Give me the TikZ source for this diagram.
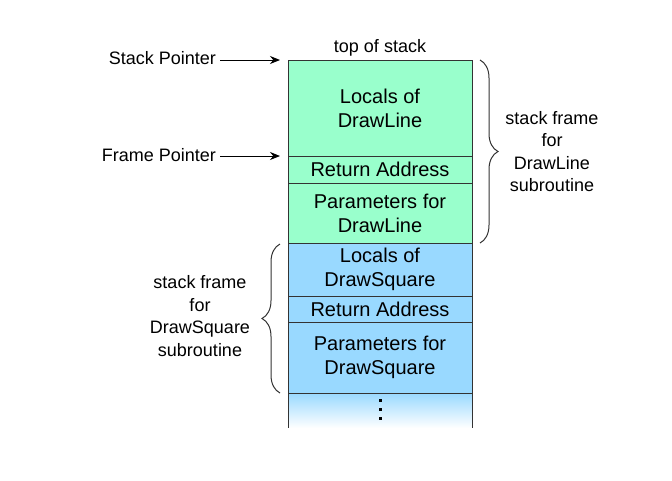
\documentclass[tikz,border=0pt]{standalone}
\usepackage{fontspec}
\setmainfont{Liberation Sans}
\usetikzlibrary{arrows.meta,decorations.pathreplacing}
\definecolor{grn}{HTML}{99FFCC}
\definecolor{blu}{HTML}{99D9FF}
\definecolor{edgec}{HTML}{333333}
\begin{document}
\begin{tikzpicture}[x=1pt,y=-1pt,
  cell/.style={draw=edgec, line width=1pt, minimum width=184pt, inner sep=0pt, outer sep=0pt, align=center, font=\fontsize{20}{24}\selectfont},
  lbl/.style={font=\fontsize{18}{22.5}\selectfont, align=center, inner sep=0pt},
  arr/.style={-{Stealth[length=10pt,width=8pt]}, line width=1pt},
  br/.style={decorate, decoration={brace, amplitude=18pt}, draw=edgec, line width=1pt}]
\useasboundingbox (0,0) rectangle (672,480);
% cells
\node[cell, fill=grn, minimum height=96pt] (l1) at (380,108) {Locals of\\DrawLine};
\node[cell, fill=grn, minimum height=27pt] (r1) at (380,169.5) {Return Address};
\node[cell, fill=grn, minimum height=60pt] (p1) at (380,213) {Parameters for\\DrawLine};
\node[cell, fill=blu, minimum height=53pt] (l2) at (380,269.5) {Locals of\\DrawSquare};
\node[cell, fill=blu, minimum height=26pt] (r2) at (380,309) {Return Address};
\node[cell, fill=blu, minimum height=71pt] (p2) at (380,357.5) {Parameters for\\DrawSquare};
\node[minimum width=184pt, minimum height=35pt, inner sep=0pt, outer sep=0pt, top color=blu, bottom color=white] (tail) at (380,410.5) {};
\draw[edgec, line width=1pt] (tail.north west) -- (tail.south west);
\draw[edgec, line width=1pt] (tail.north east) -- (tail.south east);
\draw[edgec, line width=1pt] (p2.south west) -- (p2.south east);
\fill (378.5,399.2) rectangle ++(3,3);
\fill (378.5,407.5) rectangle ++(3,3);
\fill (378.5,416.5) rectangle ++(3,3);
% labels
\node[lbl] (tos) at (380,48) {top of stack};
\node[lbl, anchor=east] (sp) at (216,58) {Stack Pointer};
\node[lbl, anchor=east] (fp) at (216,155) {Frame Pointer};
\coordinate (spt) at (280,60);
\coordinate (fpt) at (280,156);
\draw[arr] ([xshift=4pt]sp.east |- spt) -- (spt);
\draw[arr] ([xshift=4pt]fp.east |- fpt) -- (fpt);
% braces
\coordinate (rb1) at (480,60);
\coordinate (rb2) at (480,243);
\draw[br] (rb1) -- (rb2);
\coordinate (lb1) at (280,393);
\coordinate (lb2) at (280,244);
\draw[br] (lb1) -- (lb2);
\node[lbl] (rt) at (552,151.5) {stack frame\\for\\DrawLine\\subroutine};
\node[lbl] (lt) at (200,316) {stack frame\\for\\DrawSquare\\subroutine};
\end{tikzpicture}
\end{document}
